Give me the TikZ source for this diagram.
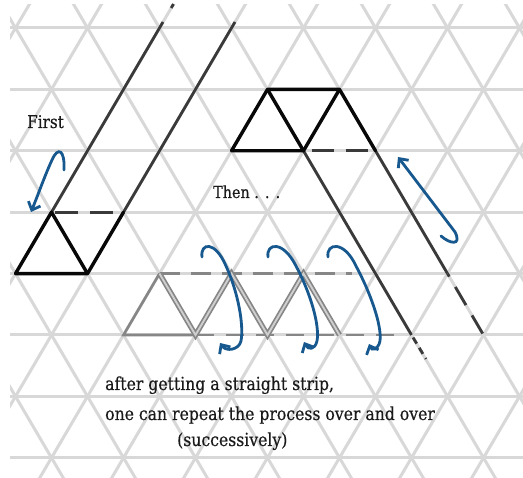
\documentclass[tikz,border=0pt]{standalone}
\usepackage{fontspec}
\usetikzlibrary{arrows.meta}
\newfontfamily\labfont[FakeStretch=0.87,FakeBold=0.4]{DejaVu Serif}
\definecolor{gridc}{HTML}{D8D8D8}
\definecolor{darkc}{HTML}{3A3A3A}
\definecolor{inkc}{HTML}{080808}
\definecolor{zigc}{HTML}{868686}
\definecolor{zigfill}{HTML}{CFCFCF}
\definecolor{bluec}{HTML}{17588F}
\definecolor{textc}{HTML}{1A1A1A}
\begin{document}
\begin{tikzpicture}[x=1pt,y=-1pt,
  gridline/.style={draw=gridc,line width=3pt},
  longline/.style={draw=darkc,line width=2.8pt},
  inkline/.style={draw=inkc,line width=3.4pt,line join=round,line cap=round},
  dashline/.style={draw=darkc,line width=2.8pt,dash pattern=on 23pt off 12pt},
  zigline/.style={draw=zigc,line width=2.6pt,line cap=round},
  zigdouble/.style={draw=zigc,line width=1.7pt,double=zigfill,double distance=1.9pt},
  zigdash/.style={draw=zigc,line width=2.6pt,dash pattern=on 20pt off 11pt},
  bluearrow/.style={draw=bluec,line width=2.8pt,line cap=round,-{Straight Barb[length=7pt,width=13pt]}},
  lab/.style={font=\labfont\fontsize{18}{21}\selectfont,text=textc,inner sep=0pt,anchor=base west}]

\useasboundingbox (0,0) rectangle (523,478);
\fill[white] (0,0) rectangle (523,478);

% triangular grid
\begin{scope}
\clip (10,5) rectangle (523,478);
\foreach \r in {0,...,7} \draw[gridline] (0,{28+61.4*\r}) -- (523,{28+61.4*\r});
\foreach \j in {-2,...,12} \draw[gridline] ({51.5+72*\j},-33.4) -- ({72*\j-272.5},519.2);
\foreach \j in {-6,...,9} \draw[gridline] ({72*\j-20.5},-33.4) -- ({72*\j+303.5},519.2);
\end{scope}

% lattice points
\coordinate (a) at (51.5,212.2);
\coordinate (b) at (15.5,273.6);
\coordinate (c) at (87.5,273.6);
\coordinate (d) at (123.5,212.2);
\coordinate (topL) at (163,22);
\coordinate (topR) at (235,22);
\coordinate (tick1) at (171.2,8);
\coordinate (tick2) at (173.5,4);
\coordinate (p) at (267.5,89.4);
\coordinate (q) at (339.5,89.4);
\coordinate (r) at (231.5,150.8);
\coordinate (s) at (303.5,150.8);
\coordinate (t) at (375.5,150.8);
\coordinate (u) at (411.5,335);
\coordinate (u2) at (426,359);
\coordinate (v) at (447.5,273.6);
\coordinate (w) at (483.5,335);
\coordinate (z0) at (123.5,335);
\coordinate (z1) at (159.5,273.6);
\coordinate (z2) at (195.5,335);
\coordinate (z3) at (231.5,273.6);
\coordinate (z4) at (267.5,335);
\coordinate (z5) at (303.5,273.6);
\coordinate (z6) at (339.5,335);
\coordinate (ztop) at (352,273.6);
\coordinate (zbot) at (395,335);

% first strip
\draw[longline] (a) -- (topL);
\draw[longline] (d) -- (topR);
\draw[longline] (tick1) -- (tick2);
\draw[dashline,dash phase=31.5pt] (a) -- (d);
\draw[inkline] (b) -- (a) -- (c) -- cycle;
\draw[inkline] (c) -- (d);

% upper right
\draw[longline] (s) -- (u);
\draw[longline] (t) -- (v);
\draw[longline,dash pattern=on 7pt off 5pt,dash phase=9pt] (u) -- (u2);
\draw[longline,dash pattern=on 21pt off 12pt,dash phase=17.5pt] (v) -- (w);
\draw[dashline,dash pattern=on 22pt off 12pt,dash phase=26pt] (s) -- (t);
\draw[inkline] (r) -- (p) -- (q) -- (t);
\draw[inkline] (r) -- (s) -- (p);
\draw[inkline] (s) -- (q);

% zigzag strip
\draw[zigdash] (z1) -- (ztop);
\draw[zigdash,dash pattern=on 18pt off 12pt] (z2) -- (zbot);
\draw[zigline] (z2) -- (z0) -- (z1);
\draw[zigdouble] (z1) -- (z2) -- (z3) -- (z4) -- (z5) -- (z6);

% blue arrows
\draw[bluearrow] (64,170) .. controls (65,150) and (58,146) .. (52,160) .. controls (45,175) and (38,195) .. (31,212);
\draw[bluearrow] (441,236) .. controls (450,244) and (462,246) .. (455,232) -- (398,157);
\draw[bluearrow] (202,257) .. controls (200,243) and (215,240) .. (226,266) .. controls (238,292) and (244,325) .. (241,341) .. controls (239,350) and (226,352) .. (220,343);
\draw[bluearrow] (268,257) .. controls (266,243) and (283,240) .. (296,266) .. controls (310,292) and (320,325) .. (317,341) .. controls (315,350) and (308,350) .. (304,342);
\draw[bluearrow] (328,257) .. controls (326,243) and (344,240) .. (356,266) .. controls (370,292) and (382,325) .. (380,341) .. controls (378,350) and (372,351) .. (369,344);

% texts
\node[lab,font=\labfont\fontsize{17.5}{20}\selectfont] (first) at (27,128) {First};
\node[lab,font=\labfont\fontsize{16.5}{20}\selectfont] (then) at (213,198) {Then . . .};
\node[lab] (t1) at (105,390) {after getting a straight strip,};
\node[lab] (t2) at (105,420) {one can repeat the process over and over};
\node[lab] (t3) at (177,446) {(successively)};
\end{tikzpicture}
\end{document}
